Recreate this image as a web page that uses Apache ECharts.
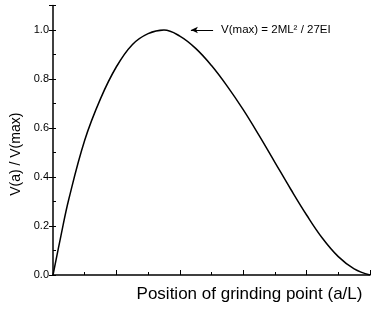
<!DOCTYPE html>
<html>
<head>
<meta charset="utf-8">
<script src="https://cdn.jsdelivr.net/npm/echarts@6/dist/echarts.min.js"></script>
<style>
  html, body { margin: 0; padding: 0; background: #fff; }
  #chart { width: 372px; height: 323px; }
</style>
</head>
<body>
<div id="chart"></div>
<script>
// position of grinding point a/L
var positions = [0, 0.025, 0.05, 0.1, 0.15, 0.2, 0.25, 0.3, 0.35, 0.4, 0.45, 0.5,
  0.55, 0.6, 0.65, 0.7, 0.75, 0.8, 0.85, 0.9, 0.95, 1.0];
// V(a) / V(max)
var ratios = [0, 0.16, 0.31, 0.55, 0.72, 0.85, 0.94, 0.985, 1.0, 0.975, 0.925, 0.855,
  0.77, 0.675, 0.57, 0.46, 0.35, 0.245, 0.15, 0.075, 0.025, 0];
var yTicks = [0, 0.2, 0.4, 0.6, 0.8, 1.0];
var noteText = "V(max) = 2ML\u00b2 / 27EI";

var font = "Liberation Sans";
var chart = echarts.init(document.getElementById("chart"));

function isMajor(v) {
  return yTicks.some(function (t) { return Math.abs(t - v) < 1e-6; });
}

chart.setOption({
  animation: false,
  backgroundColor: "#fff",
  grid: { left: 53, right: 2, top: 5.5, bottom: 48 },
  xAxis: {
    type: "value",
    min: 0,
    max: 1,
    interval: 0.2,
    name: "Position of grinding point (a/L)",
    nameLocation: "middle",
    nameGap: 11,
    nameTextStyle: { fontFamily: font, fontSize: 17, color: "#000", padding: [0, 0, 0, 76] },
    axisLine: { lineStyle: { color: "#000", width: 1.5 } },
    axisTick: { inside: true, length: 5, lineStyle: { color: "#000" } },
    minorTick: { show: true, splitNumber: 2, length: 3, lineStyle: { color: "#000" } },
    axisLabel: { show: false },
    splitLine: { show: false }
  },
  yAxis: [
    {
      type: "value",
      min: 0,
      max: 1.1,
      interval: 0.2,
      name: "V(a) / V(max)",
      nameLocation: "middle",
      nameGap: 25,
      nameTextStyle: { fontFamily: font, fontSize: 14, color: "#000", padding: [0, 28, 0, 0] },
      axisLine: { lineStyle: { color: "#000", width: 1.5 } },
      axisTick: { length: 4, lineStyle: { color: "#000" } },
      axisLabel: {
        fontFamily: font, fontSize: 11, color: "#000", margin: 4,
        formatter: function (v) { return isMajor(v) ? v.toFixed(1) : ""; }
      },
      splitLine: { show: false }
    },
    {
      type: "value",
      position: "left",
      min: 0,
      max: 1.1,
      interval: 0.1,
      axisLine: { show: false },
      axisTick: { inside: true, length: 3, lineStyle: { color: "#000" } },
      axisLabel: { show: false },
      splitLine: { show: false }
    }
  ],
  series: [
    {
      type: "line",
      data: positions.map(function (p, i) { return [p, ratios[i]]; }),
      smooth: 0.4,
      showSymbol: false,
      lineStyle: { color: "#000", width: 1.5 },
      markLine: {
        silent: true,
        symbol: ["none", "arrow"],
        symbolSize: [5, 7],
        lineStyle: { color: "#000", width: 1, type: "solid" },
        label: {
          show: true,
          position: "start",
          distance: 8,
          formatter: noteText,
          fontFamily: font,
          fontSize: 11.5,
          color: "#000"
        },
        data: [[{ coord: [0.505, 1.0] }, { coord: [0.435, 1.0] }]]
      }
    }
  ]
});
</script>
</body>
</html>
